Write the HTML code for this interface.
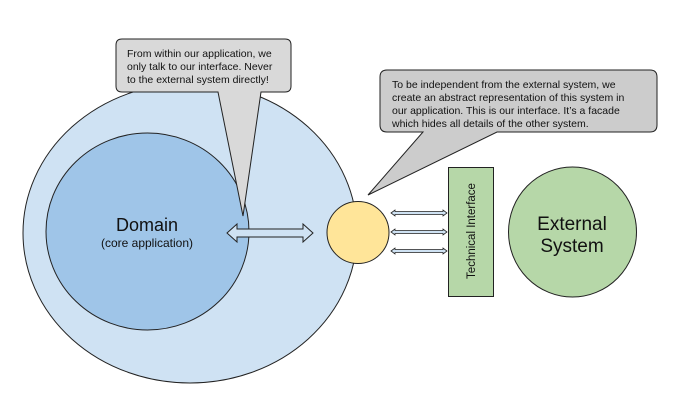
<!DOCTYPE html>
<html><head><meta charset="utf-8"><style>
html,body{margin:0;padding:0;background:#fff;}
svg{display:block;font-family:"Liberation Sans",Arial,sans-serif;}
</style></head><body>
<svg width="673" height="409" viewBox="0 0 673 409" xmlns="http://www.w3.org/2000/svg">
<ellipse cx="190" cy="233" rx="167" ry="150" fill="#cfe2f3" stroke="#222" stroke-width="1"/>
<ellipse cx="147.5" cy="231.5" rx="101.5" ry="98.5" fill="#9fc5e8" stroke="#222" stroke-width="1"/>
<text x="147" y="231" font-size="18" text-anchor="middle" fill="#111">Domain</text>
<text x="147" y="247" font-size="12" text-anchor="middle" fill="#111">(core application)</text>
<!-- callout 1 -->
<path d="M122,39 H285 Q291,39 291,45 V86 Q291,92 285,92 H261 L243,216 L218,92 H122 Q116,92 116,86 V45 Q116,39 122,39 Z" fill="#d9d9d9" stroke="#222" stroke-width="1"/>
<g font-size="10.5" fill="#111">
<text x="127" y="57">From within our application, we</text>
<text x="127" y="70">only talk to our interface. Never</text>
<text x="127" y="83">to the external system directly!</text>
</g>
<!-- callout 2 -->
<path d="M387,70 H650 Q657,70 657,77 V125 Q657,132 650,132 H497 L368,195 L423,132 H387 Q380,132 380,125 V77 Q380,70 387,70 Z" fill="#cccccc" stroke="#222" stroke-width="1"/>
<g font-size="10.5" fill="#111">
<text x="392" y="88">To be independent from the external system, we</text>
<text x="392" y="101">create an abstract representation of this system in</text>
<text x="392" y="114">our application. This is our interface. It’s a facade</text>
<text x="392" y="127">which hides all details of the other system.</text>
</g>
<!-- big arrow -->
<path d="M227,233 L237,224 V229 H303 V224 L313,233 L303,242 V237 H237 V242 Z" fill="#cfe2f3" stroke="#222" stroke-width="1"/>
<circle cx="358" cy="232.5" r="31" fill="#ffe599" stroke="#222" stroke-width="1"/>
<!-- small arrows -->
<g fill="#cfe2f3" stroke="#222" stroke-width="0.8">
<path d="M391,213 L395,210 V211.5 H443 V210 L447,213 L443,216 V214.5 H395 V216 Z"/>
<path d="M391,232 L395,229 V230.5 H443 V229 L447,232 L443,235 V233.5 H395 V235 Z"/>
<path d="M391,251 L395,248 V249.5 H443 V248 L447,251 L443,254 V252.5 H395 V254 Z"/>
</g>
<rect x="448.5" y="167.5" width="45" height="129" fill="#b6d7a8" stroke="#222" stroke-width="1"/>
<text x="0" y="0" font-size="11.5" text-anchor="middle" fill="#111" transform="translate(475,231) rotate(-90)">Technical Interface</text>
<ellipse cx="572.5" cy="232" rx="64" ry="65" fill="#b6d7a8" stroke="#222" stroke-width="1"/>
<text x="572" y="230" font-size="19" text-anchor="middle" fill="#111">External</text>
<text x="572" y="252" font-size="19" text-anchor="middle" fill="#111">System</text>
</svg>
</body></html>
